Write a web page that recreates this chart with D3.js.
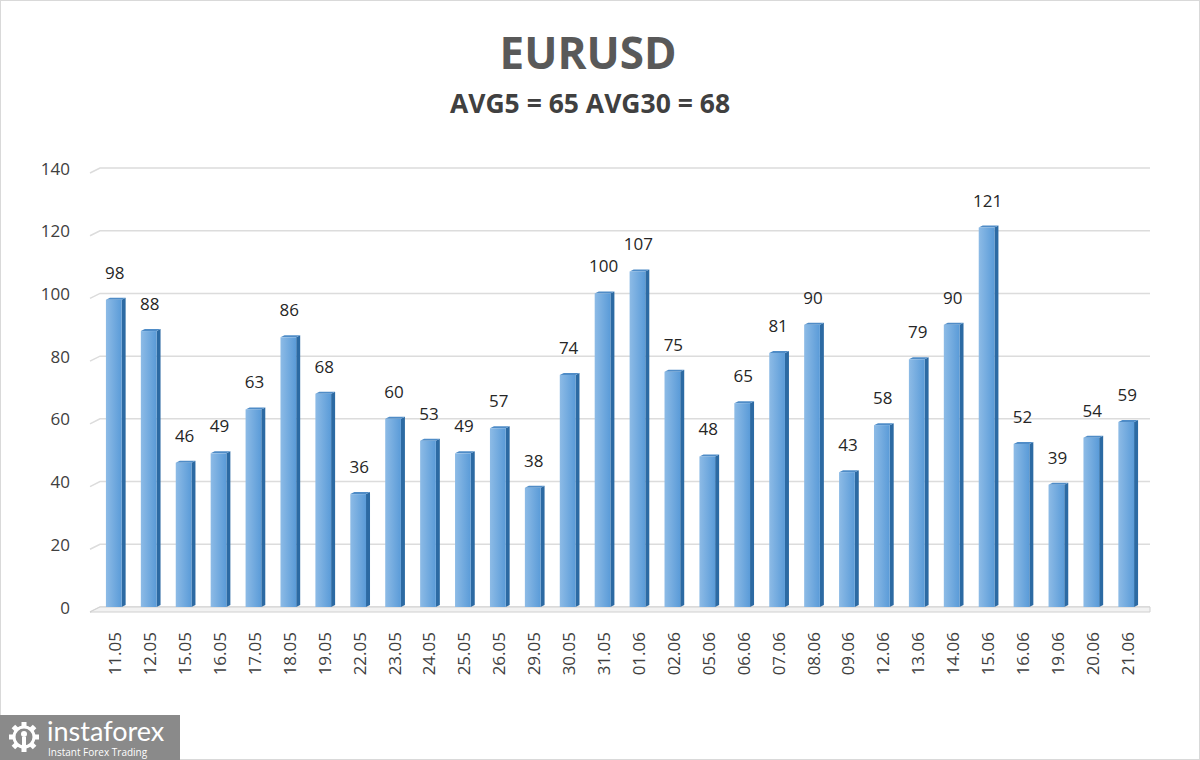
<!DOCTYPE html>
<meta charset="utf-8">
<style>
body { margin:0; background:#fff; }
svg { display:block; font-family:"Open Sans", "Noto Sans", sans-serif; }
</style>
<body>
<svg id="chart" width="1200" height="760"></svg>
<script src="https://d3js.org/d3.v7.min.js"></script>
<script>
// data
var dates = ["11.05","12.05","15.05","16.05","17.05","18.05","19.05","22.05","23.05","24.05",
             "25.05","26.05","29.05","30.05","31.05","01.06","02.06","05.06","06.06","07.06",
             "08.06","09.06","12.06","13.06","14.06","15.06","16.06","19.06","20.06","21.06"];
var values = [98,88,46,49,63,86,68,36,60,53,49,57,38,74,100,107,75,48,65,81,90,43,58,79,90,121,52,39,54,59];
var yTicks = [0,20,40,60,80,100,120,140];

var svg = d3.select("#chart");

// outer border
svg.append("rect").attr("x",0.5).attr("y",0.5).attr("width",1199).attr("height",759)
   .attr("fill","#fff").attr("stroke","#d9d9d9");

var defs = svg.append("defs");
var g1 = defs.append("linearGradient").attr("id","face").attr("x1","0").attr("x2","1");
g1.append("stop").attr("offset","0").attr("stop-color","#8dbbe6");
g1.append("stop").attr("offset","1").attr("stop-color","#5a9bd8");

var x = d3.scaleBand().domain(dates).range([96.5, 1143.5]).paddingInner(0.55).paddingOuter(0.27);
var y = d3.scaleLinear().domain([0,140]).range([607,168]);

// gridlines with slight perspective at left
var grid = svg.append("g");
yTicks.forEach(function(t){
  var yy = y(t);
  grid.append("path")
    .attr("d", "M90," + (yy+5) + "L100," + yy + "L1150," + yy)
    .attr("fill","none").attr("stroke", "#dcdcdc").attr("stroke-width",1.5);
});
// floor
svg.append("path").attr("d","M90,612L100,607L1150,607L1150,612Z")
   .attr("fill","#f2f2f2").attr("stroke","#d0d0d0");

// y axis labels
svg.append("g").selectAll("text").data(yTicks).join("text")
  .attr("x",70).attr("y", function(d){ return y(d); })
  .attr("text-anchor","end").attr("dominant-baseline","central")
  .attr("font-size",17).attr("fill","#404040")
  .text(function(d){ return d; });

// bars
var side = 4, bw = x.bandwidth();
var bars = svg.append("g").selectAll("g").data(values).join("g");
bars.append("path") // right side
  .attr("d", function(d,i){
    var x0 = x(dates[i]) + bw, t = y(d);
    return "M" + x0 + "," + t + "L" + (x0+side) + "," + (t-2) + "L" + (x0+side) + "," + (607-2) + "L" + x0 + "," + 607 + "Z";
  }).attr("fill","#2c6aa3");
bars.append("path") // top
  .attr("d", function(d,i){
    var x0 = x(dates[i]), t = y(d);
    return "M" + x0 + "," + t + "L" + (x0+side) + "," + (t-2) + "L" + (x0+bw+side) + "," + (t-2) + "L" + (x0+bw) + "," + t + "Z";
  }).attr("fill","#4f8cc7");
bars.append("rect") // front
  .attr("x", function(d,i){ return x(dates[i]); })
  .attr("y", function(d){ return y(d); })
  .attr("width", bw)
  .attr("height", function(d){ return 607 - y(d); })
  .attr("fill","url(#face)");

// value labels
svg.append("g").selectAll("text").data(values).join("text")
  .attr("x", function(d,i){ return x(dates[i]) + bw/2 + 1; })
  .attr("y", function(d){ return y(d) - 21; })
  .attr("text-anchor","middle").attr("font-size",17).attr("fill","#262626")
  .text(function(d){ return d; });

// x labels, rotated
svg.append("g").selectAll("text").data(dates).join("text")
  .attr("transform", function(d){ return "translate(" + (x(d) + bw/2 + 1) + ",632) rotate(-90)"; })
  .attr("text-anchor","end").attr("dominant-baseline","central")
  .attr("font-size",17).attr("fill","#404040")
  .text(function(d){ return d; });

// titles
svg.append("text").attr("x",588).attr("y",52).attr("text-anchor","middle").attr("dominant-baseline","central")
  .attr("font-size",44).attr("font-weight","bold").attr("fill","#595959").text("EURUSD");
svg.append("text").attr("x",590).attr("y",103).attr("text-anchor","middle").attr("dominant-baseline","central")
  .attr("font-size",26.5).attr("font-weight","bold").attr("fill","#404040").text("AVG5 = 65 AVG30 = 68");

// logo
var logo = svg.append("g");
logo.append("rect").attr("x",0).attr("y",715).attr("width",180).attr("height",45).attr("fill","#8a8a8a");
var gear = logo.append("g").attr("transform","translate(24,737)");
d3.range(8).forEach(function(k){
  gear.append("rect").attr("x",-2.5).attr("y",-15).attr("width",5).attr("height",6)
    .attr("fill","#fff").attr("transform","rotate(" + (k*45) + ")");
});
gear.append("circle").attr("r",10).attr("fill","none").attr("stroke","#fff").attr("stroke-width",3);
gear.append("circle").attr("cx",0).attr("cy",-3).attr("r",3).attr("fill","#fff");
gear.append("rect").attr("x",-2).attr("y",0).attr("width",4).attr("height",10).attr("fill","#fff");
logo.append("text").attr("x",47).attr("y",741).attr("font-size",27).attr("fill","#fff")
  .attr("font-family","Lato, sans-serif").text("instaforex");
logo.append("text").attr("x",48).attr("y",756).attr("font-size",10).attr("fill","#fff").text("Instant Forex Trading");
</script>
</body>
